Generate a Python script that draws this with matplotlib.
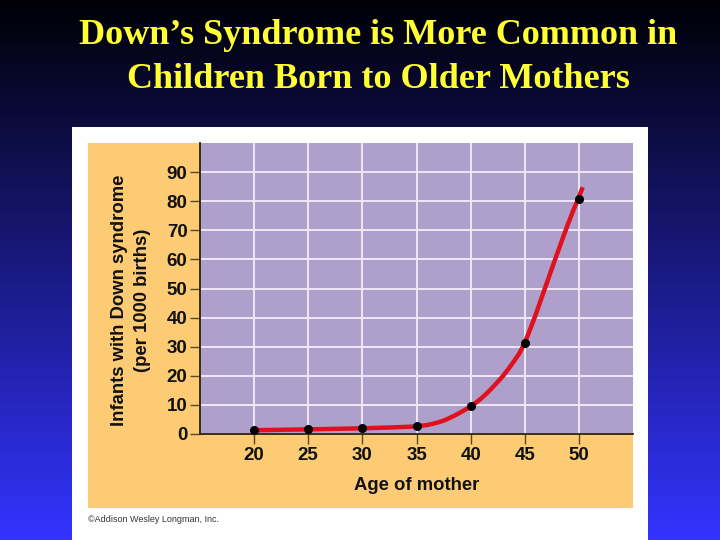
import numpy as np
import matplotlib
matplotlib.use("Agg")
import matplotlib.pyplot as plt
from matplotlib.patches import Rectangle

# data
ages = [20, 25, 30, 35, 40, 45, 50]
rates = [1.4, 1.7, 2.0, 2.6, 9.5, 31.3, 80.9]

# smooth fitted curve
curve_age = [20, 25, 30, 33, 35, 36, 36.5, 37, 37.5, 38, 38.5, 39, 39.5,
             40, 40.5, 41, 41.5, 42, 42.5, 43, 43.5, 44, 44.5, 45, 45.5,
             46, 46.5, 47, 47.5, 48, 48.5, 49, 49.5, 50, 50.35]
curve_rate = [1.3, 1.6, 1.95, 2.3, 2.6, 3.1, 3.5, 4.0, 4.6, 5.4, 6.3, 7.3, 8.35,
              9.5, 10.8, 12.3, 14.0, 15.9, 17.9, 20.0, 22.4, 25.0, 27.7, 31.3, 36.0,
              40.9, 46.2, 51.5, 56.8, 62.0, 67.2, 72.2, 77.0, 81.4, 84.8]

xticks = [20, 25, 30, 35, 40, 45, 50]
yticks = [0, 10, 20, 30, 40, 50, 60, 70, 80, 90]

W, H = 720, 540
fig = plt.figure(figsize=(7.2, 5.4), dpi=100)

# slide background gradient
bg = fig.add_axes([0, 0, 1, 1])
grad = np.linspace(0, 1, 256)[:, None]
top = np.array([0.0, 0.0, 0.02])
bot = np.array([0.2, 0.2, 1.0])
img = top + (bot - top) * grad[:, :, None]
bg.imshow(img, aspect="auto", extent=[0, W, H, 0])
bg.set_xlim(0, W)
bg.set_ylim(H, 0)
bg.axis("off")

# white card and orange panel
bg.add_patch(Rectangle((72, 127), 576, 413, facecolor="white", edgecolor="none"))
bg.add_patch(Rectangle((88, 143), 545, 365, facecolor="#fccb74", edgecolor="none"))

# title
title_kw = dict(ha="center", va="baseline", fontsize=26, fontweight="bold",
                family="Liberation Serif", color="#ffff33")
bg.text(378, 44.5, "Down\u2019s Syndrome is More Common in", **title_kw)
bg.text(378, 87.5, "Children Born to Older Mothers", **title_kw)

bg.text(88, 519, "\u00a9Addison Wesley Longman, Inc.", ha="left", va="center",
        fontsize=6.5, family="Liberation Sans", color="#333333")

# y label drawn on the slide so it sits where the original has it
bg.text(131, 300, "Infants with Down syndrome\n(per 1000 births)", rotation=90,
        ha="center", va="center", fontsize=13.3, fontweight="bold",
        family="Liberation Sans", color="#111111", linespacing=1.4)

# plot area
ax = fig.add_axes([200 / W, 1 - 434 / H, 433 / W, 291 / H])
ax.set_facecolor("#ae9fcb")
ax.set_xlim(15, 55)
ax.set_ylim(0, 100)
ax.set_xticks(xticks)
ax.set_yticks(yticks)
ax.grid(True, color="#eee7f5", linewidth=1.4)
ax.set_axisbelow(True)
for s in ["top", "right"]:
    ax.spines[s].set_visible(False)
for s in ["left", "bottom"]:
    ax.spines[s].set_color("#2e2010")
    ax.spines[s].set_linewidth(1.3)
ax.tick_params(length=7, width=1, color="#5a4a20", pad=2)
for lab in ax.get_xticklabels() + ax.get_yticklabels():
    lab.set_fontweight("bold")
    lab.set_fontsize(13.5)
    lab.set_family("Liberation Sans")
    lab.set_color("#111111")

ax.plot(curve_age, curve_rate, color="#e0101e", linewidth=3.2,
        solid_capstyle="butt", solid_joinstyle="round", zorder=3)
ax.scatter(ages, rates, s=30, color="black", zorder=4, clip_on=False)

ax.set_xlabel("Age of mother", fontsize=13.3, fontweight="bold",
              family="Liberation Sans", labelpad=10, color="#111111")

fig.savefig("out.png", dpi=100)
